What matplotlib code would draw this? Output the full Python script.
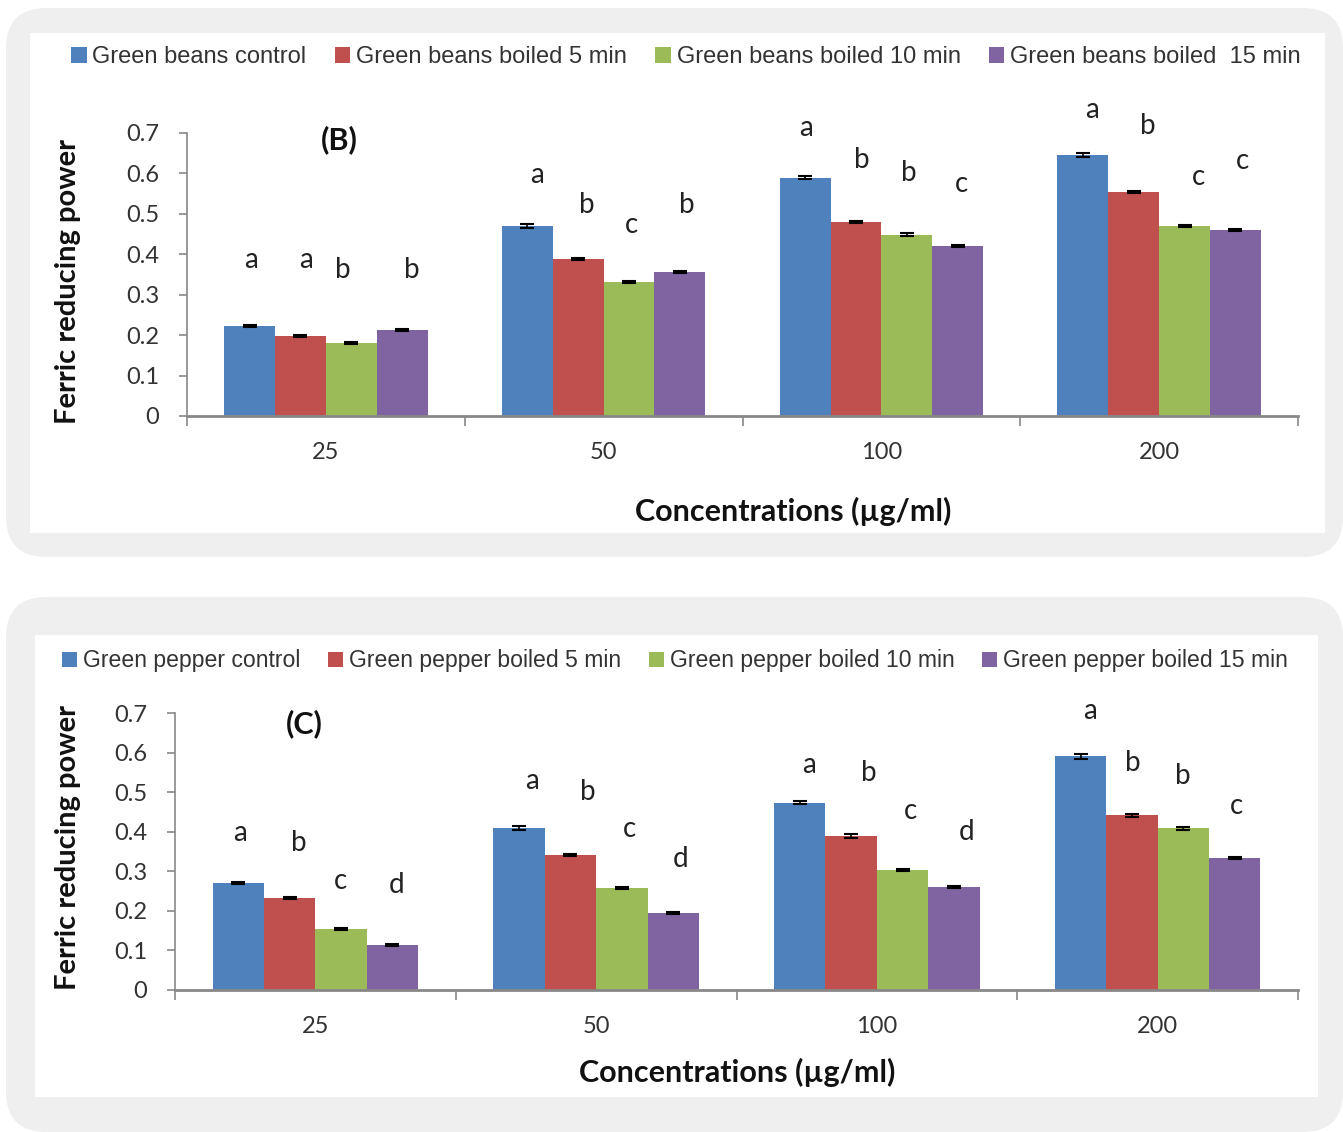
import matplotlib
matplotlib.use("Agg")
import matplotlib.pyplot as plt
from matplotlib.patches import FancyBboxPatch, Rectangle
import numpy as np

W, H = 1343, 1132

categories = ["25", "50", "100", "200"]
colors = ["#4F81BD", "#C0504D", "#9BBB59", "#8064A2"]

labels_B = ["Green beans control", "Green beans boiled 5 min",
            "Green beans boiled 10 min", "Green beans boiled  15 min"]
vals_B = [
    [0.223, 0.470, 0.589, 0.646],   # control
    [0.198, 0.389, 0.480, 0.554],   # 5 min
    [0.180, 0.332, 0.448, 0.470],   # 10 min
    [0.213, 0.356, 0.421, 0.460],   # 15 min
]
err_B = [
    [0.003, 0.004, 0.004, 0.005],
    [0.003, 0.003, 0.003, 0.003],
    [0.002, 0.002, 0.004, 0.003],
    [0.002, 0.002, 0.003, 0.003],
]
letters_B = [["a", "a", "a", "a"], ["a", "b", "b", "b"],
             ["b", "c", "b", "c"], ["b", "b", "c", "c"]]
letter_y_B = [[0.386, 0.597, 0.713, 0.757], [0.386, 0.522, 0.634, 0.718],
              [0.361, 0.473, 0.601, 0.592], [0.361, 0.522, 0.574, 0.631]]
letter_dx_B = [[-0.27, -0.24, -0.27, -0.24], [-0.07, -0.06, -0.07, -0.04],
               [0.06, 0.10, 0.10, 0.14], [0.31, 0.30, 0.29, 0.30]]

labels_C = ["Green pepper control", "Green pepper boiled 5 min",
            "Green pepper boiled 10 min", "Green pepper boiled 15 min"]
vals_C = [
    [0.270, 0.409, 0.473, 0.591],
    [0.232, 0.341, 0.389, 0.442],
    [0.154, 0.258, 0.303, 0.409],
    [0.114, 0.195, 0.260, 0.334],
]
err_C = [
    [0.003, 0.005, 0.004, 0.006],
    [0.003, 0.002, 0.004, 0.004],
    [0.002, 0.002, 0.002, 0.004],
    [0.002, 0.002, 0.002, 0.002],
]
letters_C = [["a", "a", "a", "a"], ["b", "b", "b", "b"],
             ["c", "c", "c", "b"], ["d", "d", "d", "c"]]
letter_y_C = [[0.397, 0.528, 0.569, 0.705], [0.371, 0.500, 0.548, 0.574],
              [0.275, 0.407, 0.452, 0.541], [0.265, 0.331, 0.399, 0.465]]
letter_dx_C = [[-0.27, -0.23, -0.24, -0.24], [-0.06, -0.03, -0.03, -0.09],
               [0.09, 0.12, 0.12, 0.09], [0.29, 0.30, 0.32, 0.28]]

yticks = [0, 0.1, 0.2, 0.3, 0.4, 0.5, 0.6, 0.7]
ytick_labels = ["0", "0.1", "0.2", "0.3", "0.4", "0.5", "0.6", "0.7"]

LEG_FONT = ["Liberation Sans", "DejaVu Sans"]
MAIN_FONT = ["Lato", "DejaVu Sans"]

fig = plt.figure(figsize=(W / 100, H / 100), dpi=100)
fig.patch.set_facecolor("white")


def px_rect(x0, y0, x1, y1):
    return [x0 / W, 1 - y1 / H, (x1 - x0) / W, (y1 - y0) / H]


def background(x0, y0, x1, y1, ix0, iy0, ix1, iy1):
    box = FancyBboxPatch((x0 / W, 1 - y1 / H), (x1 - x0) / W, (y1 - y0) / H,
                         boxstyle="round,pad=0,rounding_size=0.03",
                         transform=fig.transFigure, facecolor="#EFEFEF",
                         edgecolor="none", zorder=-3, mutation_aspect=W / H)
    fig.patches.append(box)
    inner = Rectangle((ix0 / W, 1 - iy1 / H), (ix1 - ix0) / W, (iy1 - iy0) / H,
                      transform=fig.transFigure, facecolor="white",
                      edgecolor="none", zorder=-2)
    fig.patches.append(inner)


def panel(rect, vals, errs, labels, letters, letter_y, letter_dx, tag, tag_pos,
          leg_center, leg_size, ylabel_xy, xlabel_xy):
    ax = fig.add_axes(rect)
    ax.set_facecolor("none")
    n = len(categories)
    centers = np.arange(n) + 0.5
    bw = 0.183
    handles = []
    for i, (v, e, lab, c) in enumerate(zip(vals, errs, labels, colors)):
        xs = centers + (i - 1.5) * bw
        b = ax.bar(xs, v, width=bw, color=c, label=lab, zorder=2)
        ax.errorbar(xs, v, yerr=e, fmt="none", ecolor="black", elinewidth=1.2,
                    capsize=5, capthick=1.5, zorder=3)
        handles.append(b)
        for j in range(n):
            ax.text(centers[j] + letter_dx[i][j], letter_y[i][j], letters[i][j],
                    ha="center", va="center", fontsize=20, color="#222222",
                    family=MAIN_FONT, clip_on=False)
    ax.set_xlim(0, n)
    ax.set_ylim(0, 0.7)
    ax.set_xticks(np.arange(n + 1))
    ax.set_xticklabels([])
    ax.set_xticks(centers, minor=True)
    ax.set_xticklabels(categories, minor=True, fontsize=17, family=MAIN_FONT,
                       color="#333333")
    ax.tick_params(axis="x", which="minor", length=0, pad=19)
    ax.tick_params(axis="x", which="major", length=7, color="#888888", width=1.2)
    ax.set_yticks(yticks)
    ax.set_yticklabels(ytick_labels, fontsize=17, family=MAIN_FONT, color="#333333")
    ax.tick_params(axis="y", length=6, color="#888888", width=1.2, pad=14)
    for s in ["top", "right"]:
        ax.spines[s].set_visible(False)
    ax.spines["left"].set_color("#888888")
    ax.spines["bottom"].set_color("#888888")
    ax.spines["left"].set_linewidth(1.2)
    ax.spines["bottom"].set_linewidth(2)
    ax.text(tag_pos[0], tag_pos[1], tag, fontsize=22, fontweight="bold",
            family=MAIN_FONT, ha="center", va="center", color="#111111")
    fig.text(ylabel_xy[0] / W, 1 - ylabel_xy[1] / H, "Ferric reducing power",
             rotation=90, ha="center", va="center", fontsize=21,
             fontweight="bold", family=MAIN_FONT, color="#111111")
    fig.text(xlabel_xy[0] / W, 1 - xlabel_xy[1] / H,
             "Concentrations (\u00b5g/ml)", ha="center", va="center",
             fontsize=22, fontweight="bold", family=MAIN_FONT, color="#111111")
    leg = ax.legend(handles=handles, labels=labels, ncol=4, loc="center",
                    bbox_to_anchor=(leg_center[0] / W, 1 - leg_center[1] / H),
                    bbox_transform=fig.transFigure, frameon=False,
                    prop={"family": LEG_FONT, "size": leg_size},
                    handlelength=0.65, handleheight=0.65, handletextpad=0.25,
                    columnspacing=1.2, borderaxespad=0)
    for t in leg.get_texts():
        t.set_color("#333333")
    return ax


background(6, 8, 1343, 557, 30, 33, 1325, 533)
background(6, 597, 1343, 1132, 35, 635, 1318, 1097)

rect_B = px_rect(187, 133, 1298, 416)
panel(rect_B, vals_B, err_B, labels_B, letters_B, letter_y_B, letter_dx_B,
      "(B)", (0.55, 0.683), (686, 57), 17, (68, 281), (793, 511))

rect_C = px_rect(175, 713, 1298, 990)
panel(rect_C, vals_C, err_C, labels_C, letters_C, letter_y_C, letter_dx_C,
      "(C)", (0.46, 0.674), (675, 661), 16.6, (68, 848), (737, 1072))

fig.savefig("out.png", dpi=100, facecolor="white")
